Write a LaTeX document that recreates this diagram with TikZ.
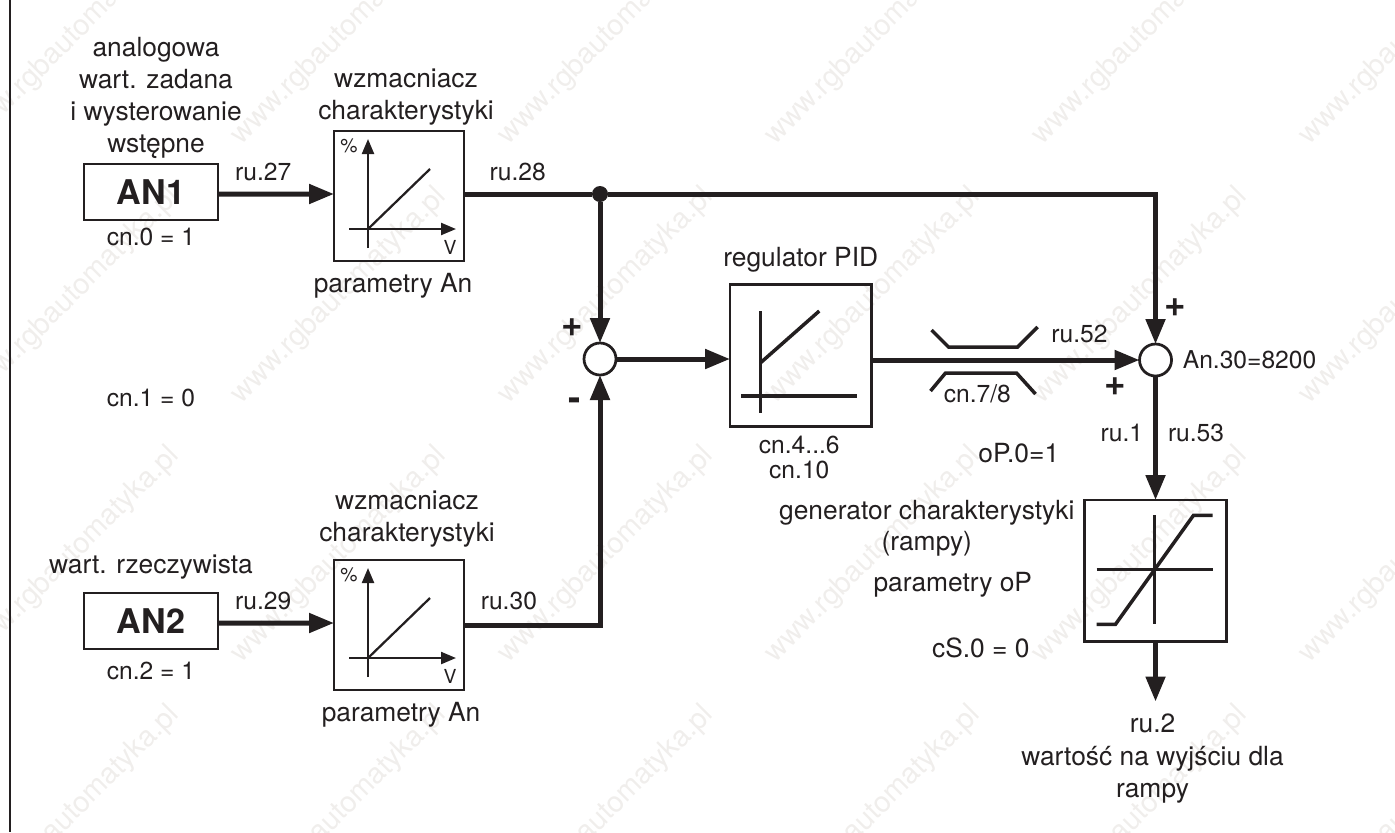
\documentclass[tikz,border=0pt]{standalone}
\usepackage{fontspec}
\setmainfont{TeX Gyre Heros}
\usepackage{xcolor}
\usetikzlibrary{positioning,arrows.meta,calc}
\definecolor{ruleink}{HTML}{231F20}
\definecolor{stampgray}{HTML}{F0EEEC}

\begin{document}
\begin{tikzpicture}[
  x=0.2mm, y=-0.2mm,
  font=\fontsize{14pt}{18.2pt}\selectfont,
  text=ruleink,
  box/.style={draw=ruleink, line width=0.55mm, inner sep=0pt, outer sep=0pt},
  inbox/.style={box, minimum width=26.8mm, minimum height=11.2mm, font=\fontsize{19.4pt}{20pt}\selectfont\bfseries},
  ampbox/.style={box, minimum size=26mm},
  regbox/.style={box, minimum size=28.3mm},
  sumnode/.style={draw=ruleink, line width=0.55mm, circle, fill=white, minimum size=6.4mm, inner sep=0pt, outer sep=0pt},
  tapnode/.style={fill=ruleink, circle, minimum size=3.2mm, inner sep=0pt, outer sep=0pt},
  arr/.style={-{Triangle[length=5mm, width=3.8mm]}, line width=1mm, draw=ruleink},
  wire/.style={line width=1mm, draw=ruleink},
  axisarr/.style={-{Triangle[length=3mm, width=2.4mm]}, line width=0.45mm, draw=ruleink},
  graphln/.style={line width=0.45mm, draw=ruleink},
  curveln/.style={line width=0.7mm, draw=ruleink},
  lbl/.style={align=center, inner sep=0pt},
  txt/.style={lbl, font=\fontsize{15pt}{18.2pt}\selectfont},
  sign/.style={inner sep=0pt, font=\fontsize{21pt}{22pt}\selectfont\bfseries},
  small/.style={inner sep=0pt, font=\fontsize{11pt}{12pt}\selectfont},
  stamp/.style={inner sep=0pt, rotate=45, text=stampgray, font=\fontsize{16.5pt}{18pt}\selectfont}
]
\useasboundingbox (0,0) rectangle (1395,832);
\foreach \cx in {72,339,606,873,1140,1407}
  \foreach \cy in {37,296,555,814}
    \node[stamp] (stamp-\cx-\cy) at (\cx,\cy) {www.rgbautomatyka.pl};

\coordinate (frametop) at (10,0);
\coordinate (framebot) at (10,832);
\draw[line width=0.55mm, draw=ruleink] (frametop) -- (framebot);

\node[inbox] (an1) at (151,192) {AN1};
\node[ampbox, right=23.2mm of an1, yshift=-0.8mm] (amp1) {};
\node[tapnode, right=25.6mm of amp1, yshift=0.4mm] (tap) {};
\node[sumnode, below=28.2mm of tap] (sum1) {};
\node[regbox, right=22.8mm of sum1, yshift=0.7mm] (reg) {};
\node[sumnode, right=53.6mm of reg, yshift=-0.9mm] (sum2) {};
\node[regbox, below=24.8mm of sum2] (ramp) {};
\coordinate[below=12mm of ramp] (rampout);
\node[inbox, below=74.6mm of an1] (an2) {AN2};
\node[ampbox, right=23.2mm of an2, yshift=-0.8mm] (amp2) {};

% graphs inside the boxes
\foreach \amp in {amp1,amp2}{
  \begin{scope}[shift={(\amp.center)}]
    \draw[axisarr] (-31,52) -- (-31,-57);
    \draw[axisarr] (-50,33) -- (57,33);
    \draw[graphln] (-31,33) -- (31,-27);
    \node[small] (\amp-pct) at (-50,-50) {\%};
    \node[small] (\amp-volt) at (51,51) {V};
  \end{scope}
}
\begin{scope}[shift={(reg.center)}]
  \draw[curveln] (-40.5,-44.5) -- (-40.5,57.5);
  \draw[curveln] (-59.5,40.5) -- (56.5,40.5);
  \draw[curveln] (-40.5,7.5) -- (18.5,-44.5);
\end{scope}
\begin{scope}[shift={(ramp.center)}]
  \draw[curveln] (-1,-55.5) -- (-1,53.5);
  \draw[curveln] (-59,-1.5) -- (57,-1.5);
  \draw[curveln] (-59,53.5) -- (-40,53.5) -- (38,-55.5) -- (57,-55.5);
\end{scope}
\draw[curveln] ([shift={(60,-25.5)}]reg.east) -- ++(17,17) -- ++(69,0) -- ++(20,-20);
\draw[curveln] ([shift={(59,35.5)}]reg.east) -- ++(15,-18) -- ++(71,0) -- ++(19,21);

\draw[arr] ([yshift=-0.4mm]an1.east) -- node[lbl, pos=0.39, above=2.2mm] (ru27) {ru.27} ([yshift=0.4mm]amp1.west);
\draw[arr] ([yshift=-0.4mm]an2.east) -- node[lbl, pos=0.39, above=2.2mm] (ru29) {ru.29} ([yshift=0.4mm]amp2.west);
\draw[wire] (tap -| amp1.east) -- node[lbl, pos=0.42, above=2.2mm] (ru28) {ru.28} (tap);
\draw[arr] (tap) -- (sum1);
\draw[arr] (tap) -| (sum2);
\draw[arr] (amp2.east) -- node[lbl, pos=0.33, above=2.6mm] (ru30) {ru.30} (amp2.east -| sum1) -- (sum1);
\draw[arr] (sum1) -- (sum1 -| reg.west);
\draw[arr] (sum2 -| reg.east) -- node[lbl, pos=0.776, above=3mm] (ru52) {ru.52} node[lbl, pos=0.395, below=4.4mm] (cn78) {cn.7/8} (sum2);
\draw[arr] (sum2) -- node[lbl, pos=0.46, left=2mm] (ru1) {ru.1} node[lbl, pos=0.46, right=2mm] (ru53) {ru.53} (ramp);
\draw[arr] (ramp) -- (rampout);

\node[sign] (plus1) at ([shift={(-28,-31)}]sum1.center) {+};
\node[sign] (minus1) at ([shift={(-25,45)}]sum1.center) {-};
\node[sign] (plus2) at ([shift={(20,-52)}]sum2.center) {+};
\node[sign] (plus3) at ([shift={(-40,27)}]sum2.center) {+};

\node[txt, above=1mm of an1, xshift=1mm] (an1name) {analogowa\\wart. zadana\\i wysterowanie\\wstępne};
\node[lbl, below=1.6mm of an1] (cn0) {cn.0 = 1};
\node[lbl, below=33.8mm of an1] (cn1) {cn.1 = 0};
\node[txt, above=1mm of amp1, xshift=1.4mm] (amp1name) {wzmacniacz\\charakterystyki};
\node[txt, below=2.4mm of amp1, xshift=-1.2mm] (amp1par) {parametry An};
\node[txt, above=2.6mm of an2] (an2name) {wart. rzeczywista};
\node[lbl, below=2.6mm of an2] (cn2) {cn.2 = 1};
\node[txt, above=2.4mm of amp2, xshift=1.6mm] (amp2name) {wzmacniacz\\charakterystyki};
\node[txt, below=2.4mm of amp2, xshift=0.4mm] (amp2par) {parametry An};
\node[txt, above=2.4mm of reg] (regname) {regulator PID};
\node[lbl, below=1.8mm of reg, xshift=-0.3mm] (regpar) {cn.4...6\\[-1.4mm]cn.10};
\node[lbl, right=2.2mm of sum2] (an30) {An.30=8200};
\node[txt, left=2mm of ramp, yshift=8.5mm] (rampname) {generator charakterystyki\\(rampy)};
\node[txt, above=7.2mm of rampname, xshift=18.4mm] (op0) {oP.0=1};
\node[txt, below=3mm of rampname, xshift=5.2mm] (ramppar) {parametry oP};
\node[txt, below=8mm of ramppar, xshift=5.6mm] (cs0) {cS.0 = 0};
\node[txt, below=2.4mm of rampout, xshift=-0.6mm] (ru2) {ru.2\\[0.6pt]wartość na wyjściu dla\\rampy};
\end{tikzpicture}
\end{document}
